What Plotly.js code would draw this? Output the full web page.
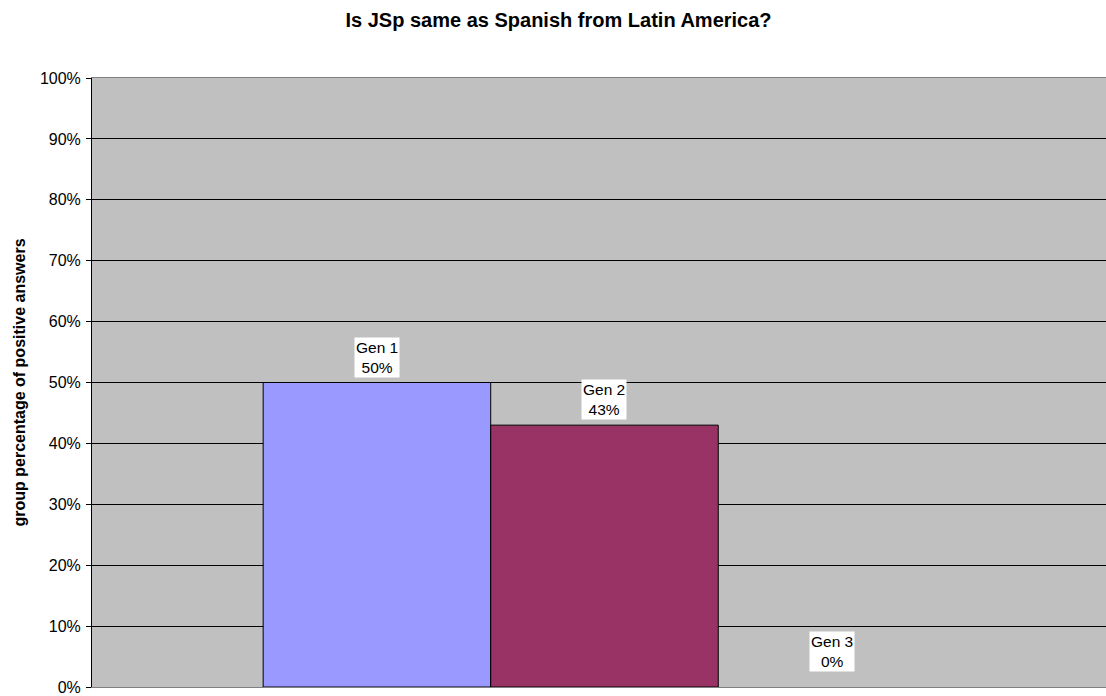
<!DOCTYPE html>
<html>
<head>
<meta charset="utf-8">
<script src="https://cdn.plot.ly/plotly-3.0.1.min.js"></script>
<style>html,body{margin:0;padding:0;background:#fff;}#chart{width:1106px;height:696px;}</style>
</head>
<body>
<div id="chart"></div>
<script>
const chartTitle = 'Is JSp same as Spanish from Latin America?';
const yTitle = 'group percentage of positive answers';
const category = [''];
const seriesNames = ['Gen 1', 'Gen 2', 'Gen 3'];
const seriesValues = [0.50, 0.43, 0.00];
const seriesColors = ['#9999FF', '#993366', '#FFFFCC'];
const yTickVals = [0, 0.1, 0.2, 0.3, 0.4, 0.5, 0.6, 0.7, 0.8, 0.9, 1.0];

const FONT = '"Liberation Sans", Arial, sans-serif';
const bargap = 0.334;
const nSeries = seriesNames.length;
const groupW = 1 - bargap;
const barW = groupW / nSeries;

const traces = seriesNames.map((name, i) => ({
  type: 'bar',
  name: name,
  x: category,
  y: [seriesValues[i]],
  marker: { color: seriesColors[i], line: { color: '#000000', width: seriesValues[i] === 0 ? 0 : 1 } },
  hoverinfo: 'none'
}));

const annotations = seriesNames.map((name, i) => ({
  xref: 'x', yref: 'y',
  x: -groupW / 2 + (i + 0.5) * barW,
  y: seriesValues[i],
  text: name + '<br>' + Math.round(seriesValues[i] * 100) + '%',
  showarrow: false,
  xanchor: 'center', yanchor: 'bottom',
  yshift: seriesValues[i] === 0 ? 15 : 5,
  bgcolor: '#FFFFFF',
  borderpad: 1,
  font: { family: FONT, size: 15.5, color: '#000000' }
}));

const layout = {
  width: 1106, height: 696,
  margin: { l: 92, r: 0, t: 78, b: 9, pad: 0 },
  paper_bgcolor: '#FFFFFF',
  plot_bgcolor: '#C0C0C0',
  showlegend: false,
  barmode: 'group',
  bargap: bargap,
  bargroupgap: 0,
  title: {
    text: '<b>' + chartTitle + '</b>',
    font: { family: FONT, size: 20, color: '#000000' },
    xref: 'container', yref: 'container',
    x: 0.505, y: 0.971, xanchor: 'center', yanchor: 'middle'
  },
  xaxis: {
    type: 'category',
    range: [-0.5, 0.4893],
    showticklabels: false,
    ticks: '',
    showgrid: false,
    zeroline: false,
    showline: true, mirror: true,
    linecolor: '#808080', linewidth: 1
  },
  yaxis: {
    range: [0, 1],
    tickvals: yTickVals,
    tickformat: '.0%',
    ticklabeloverflow: 'allow',
    ticks: 'outside', ticklen: 5, tickcolor: '#000000', tickwidth: 1,
    ticklabelstandoff: 2,
    tickfont: { family: FONT, size: 16, color: '#000000' },
    showgrid: true, gridcolor: '#000000', gridwidth: 1,
    zeroline: false,
    showline: true, linecolor: '#000000', linewidth: 1,
    title: {
      text: '<b>' + yTitle + '</b>',
      font: { family: FONT, size: 16, color: '#000000' },
      standoff: 10
    }
  },
  annotations: annotations
};

Plotly.newPlot('chart', traces, layout, { displayModeBar: false, staticPlot: true });
</script>
</body>
</html>
